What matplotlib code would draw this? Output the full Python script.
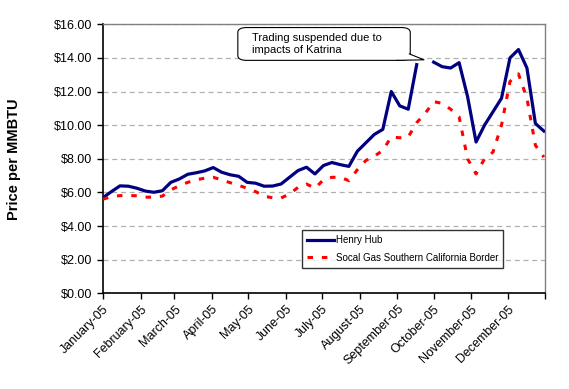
import matplotlib
matplotlib.use("Agg")
import matplotlib.pyplot as plt
from matplotlib.patches import FancyBboxPatch, Polygon
import numpy as np
import pandas as pd
from datetime import datetime

plt.rcParams['font.family'] = ['Liberation Sans', 'DejaVu Sans']

# Weekly observation dates for 2005
dates = pd.date_range('2005-01-01', periods=53, freq='7D')

henry_hub = [5.69, 6.05, 6.39, 6.37, 6.25, 6.08, 6.01, 6.10, 6.60, 6.80,
             7.08, 7.17, 7.28, 7.48, 7.20, 7.05, 6.96, 6.60, 6.55, 6.37,
             6.38, 6.50, 6.90, 7.30, 7.50, 7.10, 7.60, 7.78, 7.65, 7.55,
             8.45, 8.95, 9.45, 9.75, 12.00, 11.15, 10.95, 13.60, np.nan, 13.75,
             13.48, 13.40, 13.72, 11.70, 9.00, 10.00, 10.80, 11.60, 14.00, 14.50,
             13.40, 10.10, 9.65]

socal_border = [5.60, 5.75, 5.81, 5.82, 5.80, 5.72, 5.72, 5.78, 6.15, 6.40,
                6.60, 6.75, 6.85, 6.90, 6.75, 6.58, 6.42, 6.25, 6.05, 5.78,
                5.68, 5.67, 5.90, 6.30, 6.50, 6.25, 6.75, 6.90, 6.90, 6.70,
                7.35, 7.90, 8.15, 8.50, 9.30, 9.25, 9.30, 10.15, 10.70, 11.40,
                11.30, 10.95, 10.50, 8.00, 7.10, 8.00, 8.40, 10.00, 12.60, 13.05,
                11.60, 8.80, 8.10]

month_labels = ['January-05', 'February-05', 'March-05', 'April-05', 'May-05',
                'June-05', 'July-05', 'August-05', 'September-05', 'October-05',
                'November-05', 'December-05']
series_names = ['Henry Hub', 'Socal Gas Southern California Border']
annotation_text = 'Trading suspended due to\nimpacts of Katrina'

fig = plt.figure(figsize=(5.69, 3.89), dpi=100)
ax = fig.add_axes([0.181, 0.246, 0.777, 0.6915])

ax.plot(dates, henry_hub, color='#000080', lw=2.3, label=series_names[0],
        solid_joinstyle='round', zorder=3)
ax.plot(dates, socal_border, color='#FF0000', lw=2.2, label=series_names[1],
        linestyle=(0, (1.8, 2.9)), zorder=3)

ax.set_xlim(datetime(2005, 1, 1), datetime(2006, 1, 1))
ax.set_ylim(0, 16)
ax.set_yticks(np.arange(0, 17, 2))
ax.set_yticklabels([f'${v:.2f}' for v in np.arange(0, 17, 2)], fontsize=9)

tick_dates = [datetime(2005, m, 1) for m in range(1, 13)] + [datetime(2006, 1, 1)]
ax.set_xticks(tick_dates)
ax.set_xticklabels(month_labels + [''], rotation=45, ha='right',
                   rotation_mode='anchor', fontsize=9)
ax.tick_params(axis='both', direction='out', length=4, width=1, color='black')
ax.tick_params(axis='x', pad=3)

ax.grid(axis='y', color='#B0B0B0', linestyle=(0, (4, 3)), lw=0.9)
ax.set_axisbelow(True)

for s in ['left', 'bottom']:
    ax.spines[s].set_color('black')
    ax.spines[s].set_linewidth(1.2)
for s in ['top', 'right']:
    ax.spines[s].set_color('#808080')
    ax.spines[s].set_linewidth(1.0)

ax.set_ylabel('Price per MMBTU', fontsize=10.5, fontweight='bold')
ax.yaxis.set_label_coords(-0.185, 0.5)

leg = ax.legend(loc='upper left', bbox_to_anchor=(0.45, 0.235), fontsize=7,
                frameon=True, fancybox=False, handlelength=2.8,
                borderpad=0.5, labelspacing=0.8, handletextpad=0.2,
                borderaxespad=0)
leg.get_frame().set_edgecolor('black')
leg.get_frame().set_linewidth(1.0)

# Callout box
box = FancyBboxPatch((0.305, 0.866), 0.39, 0.122,
                     boxstyle='round,pad=0,rounding_size=0.02',
                     transform=ax.transAxes, fc='white', ec='black', lw=0.8,
                     zorder=5, mutation_aspect=0.9)
ax.add_patch(box)
tail = [(0.665, 0.866), (0.693, 0.89), (0.726, 0.868)]
ax.add_patch(Polygon(tail, closed=True, transform=ax.transAxes, fc='white',
                     ec='none', zorder=6))
ax.plot([tail[0][0], tail[2][0], tail[1][0]], [tail[0][1], tail[2][1], tail[1][1]],
        transform=ax.transAxes, color='black', lw=0.8, zorder=7)
ax.text(0.336, 0.927, annotation_text, transform=ax.transAxes, ha='left',
        va='center', fontsize=8, linespacing=1.35, zorder=8)

fig.savefig('out.png', dpi=100, facecolor='white')
